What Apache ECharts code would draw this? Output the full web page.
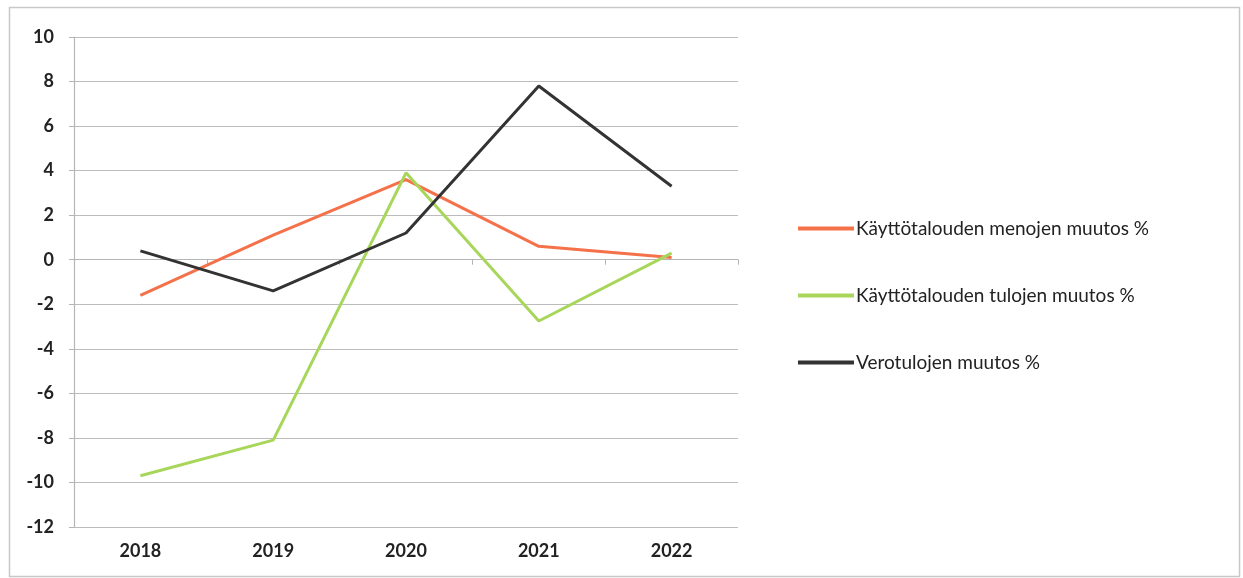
<!DOCTYPE html>
<html>
<head>
<meta charset="utf-8">
<script src="https://cdn.jsdelivr.net/npm/echarts@6/dist/echarts.min.js"></script>
<style>
html,body{margin:0;padding:0;background:#fff;}
#c{width:1243px;height:578px;}
</style>
</head>
<body>
<div id="c"></div>
<script>
const years = ['2018', '2019', '2020', '2021', '2022'];
const menot = [-1.6, 1.1, 3.6, 0.6, 0.1];
const tulot = [-9.7, -8.1, 3.9, -2.75, 0.3];
const verotulot = [0.4, -1.4, 1.2, 7.8, 3.3];
const seriesNames = ['Käyttötalouden menojen muutos %', 'Käyttötalouden tulojen muutos %', 'Verotulojen muutos %'];

const chart = echarts.init(document.getElementById('c'));
const font = 'Lato, "Open Sans", sans-serif';
chart.setOption({
  animation: false,
  backgroundColor: '#fff',
  textStyle: { fontFamily: font },
  graphic: [{
    type: 'rect', left: 7, top: 5, silent: true,
    shape: { width: 1230, height: 569 },
    style: { fill: 'none', stroke: '#c8c8c8', lineWidth: 1.5 }
  }],
  grid: { left: 74, right: 505, top: 37, bottom: 51 },
  legend: {
    orient: 'vertical',
    left: 798,
    top: 219,
    padding: 0,
    itemGap: 48,
    itemWidth: 56,
    itemHeight: 4,
    icon: 'rect',
    textStyle: { fontFamily: font, fontSize: 19, color: '#222', padding: [0, 0, 0, -3] },
    data: seriesNames
  },
  xAxis: [{
    type: 'category',
    data: years,
    boundaryGap: true,
    axisLine: { show: true, onZero: true, lineStyle: { color: '#b5b5b5', width: 1.2 } },
    axisTick: { show: true, length: 5, inside: false, lineStyle: { color: '#b5b5b5' } },
    axisLabel: { show: false },
    splitLine: { show: false }
  }, {
    type: 'category',
    data: years,
    position: 'bottom',
    boundaryGap: true,
    axisLine: { show: false, onZero: false },
    axisTick: { show: false },
    axisLabel: { show: true, margin: 15, fontFamily: font, fontSize: 18, fontWeight: 'bold', color: '#222' },
    splitLine: { show: false }
  }],
  yAxis: {
    type: 'value',
    min: -12, max: 10, interval: 2,
    axisLine: { show: true, lineStyle: { color: '#b5b5b5', width: 1.2 } },
    axisTick: { show: true, length: 5, lineStyle: { color: '#b5b5b5' } },
    axisLabel: { margin: 20, fontFamily: font, fontSize: 18, fontWeight: 'bold', color: '#222' },
    splitLine: { show: true, lineStyle: { color: '#bcbcbc', width: 1.2 } }
  },
  series: [{
    name: seriesNames[0], type: 'line', xAxisIndex: 0, data: menot,
    symbol: 'none', lineStyle: { color: '#f4714a', width: 3 }, itemStyle: { color: '#f4714a' }
  }, {
    name: seriesNames[1], type: 'line', xAxisIndex: 0, data: tulot,
    symbol: 'none', lineStyle: { color: '#a7d65a', width: 3 }, itemStyle: { color: '#a7d65a' }
  }, {
    name: seriesNames[2], type: 'line', xAxisIndex: 0, data: verotulot,
    symbol: 'none', lineStyle: { color: '#333333', width: 3 }, itemStyle: { color: '#333333' }
  }]
});
</script>
</body>
</html>
